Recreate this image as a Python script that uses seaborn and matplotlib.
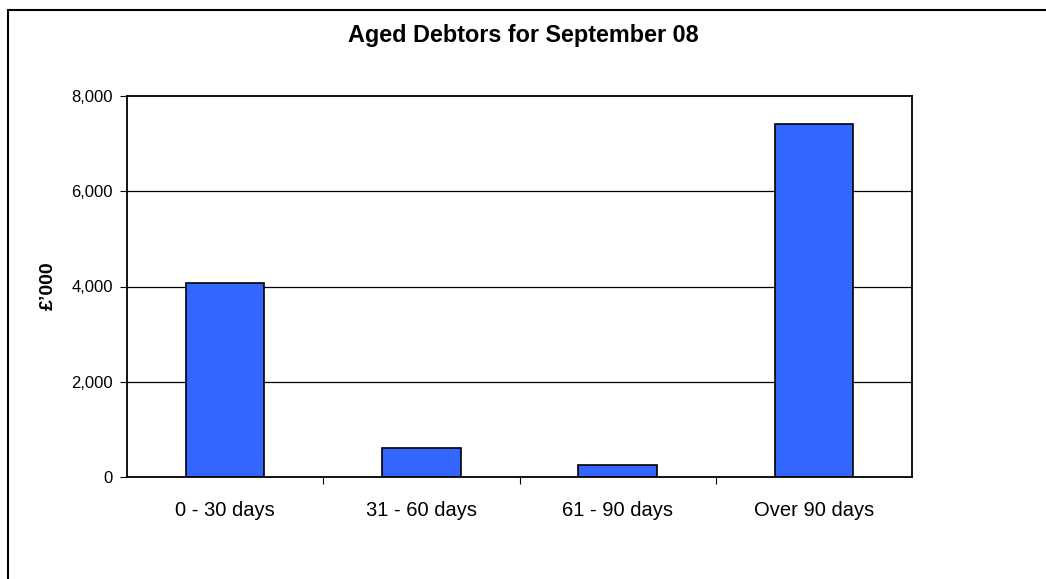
import matplotlib
matplotlib.use("Agg")
import matplotlib.pyplot as plt
from matplotlib.patches import Rectangle
from matplotlib.ticker import FuncFormatter, FixedLocator
import pandas as pd
import seaborn as sns

# Data
categories = ["0 - 30 days", "31 - 60 days", "61 - 90 days", "Over 90 days"]
values = [4080, 600, 250, 7420]
y_ticks = [0, 2000, 4000, 6000, 8000]

df = pd.DataFrame({"Age": categories, "Amount": values})

sns.set_theme(style="white")
plt.rcParams["font.family"] = ["Liberation Sans", "DejaVu Sans"]
plt.rcParams["text.color"] = "black"

fig = plt.figure(figsize=(10.46, 5.79), dpi=100)
ax = fig.add_axes([127 / 1046, 1 - 477 / 579, 785 / 1046, 381 / 579])

# outer chart frame (right and bottom edges run off the picture)
fig.patches.append(Rectangle((8 / 1046, -0.1), 1.2, 1 - 10 / 579 + 0.1,
                             transform=fig.transFigure, fill=False,
                             edgecolor="black", linewidth=1.5, zorder=0))

for y in y_ticks[1:-1]:
    ax.axhline(y, color="black", linewidth=0.9, zorder=0)

sns.barplot(data=df, x="Age", y="Amount", color="#3366FF", saturation=1,
            width=0.4, edgecolor="black", linewidth=1.2, ax=ax, zorder=2)

ax.set_ylim(0, 8000)
ax.set_xlim(-0.5, 3.5)
ax.set_yticks(y_ticks)
ax.yaxis.set_major_formatter(FuncFormatter(lambda v, p: f"{int(v):,}"))
ax.xaxis.set_minor_locator(FixedLocator([0.5, 1.5, 2.5]))
ax.tick_params(axis="x", which="major", length=0, pad=17, labelsize=14.5, colors="black")
ax.tick_params(axis="x", which="minor", length=5, width=0.8, bottom=True, color="black")
ax.tick_params(axis="y", length=5, width=0.8, left=True, labelsize=12, colors="black", pad=5)

for s in ax.spines.values():
    s.set_color("black")
    s.set_linewidth(1.3)

ax.set_xlabel("")
ax.set_ylabel("")
fig.text(48 / 1046, 1 - 286 / 579, "£’000", rotation=90, fontsize=14,
         fontweight="bold", ha="center", va="center", color="black")
fig.text(523 / 1046, 1 - 42 / 579, "Aged Debtors for September 08",
         fontsize=16.8, fontweight="bold", ha="center", va="baseline", color="black")

fig.savefig("out.png", dpi=100)
